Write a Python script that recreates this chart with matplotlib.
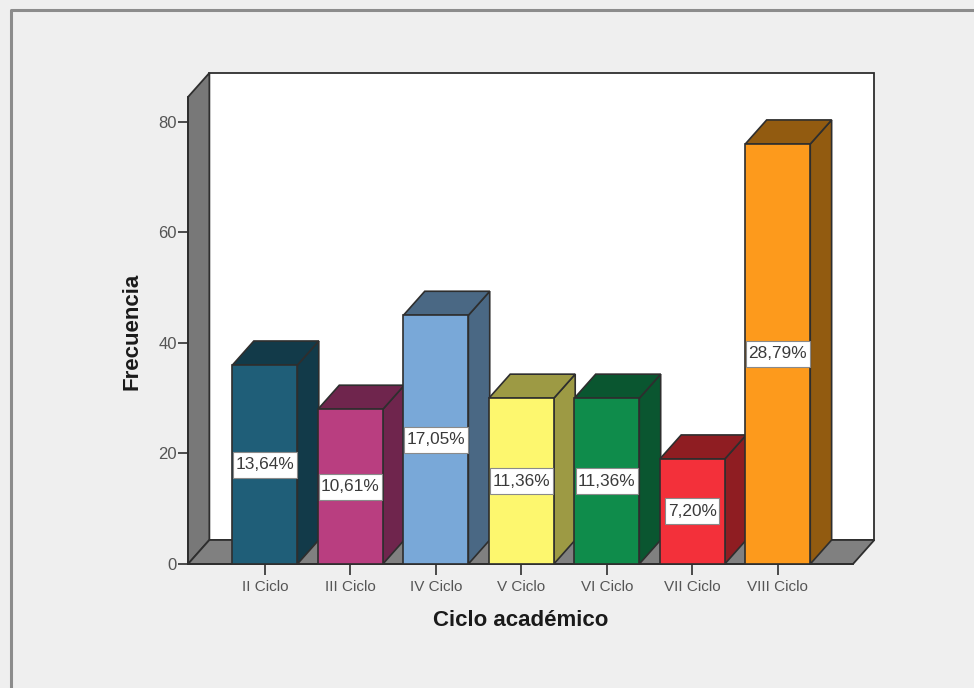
#!/usr/bin/env python3
"""Frecuencia por ciclo academico: 3D-looking bars on a flat axes."""

import matplotlib
matplotlib.use('Agg')
import matplotlib.pyplot as plt
from matplotlib.lines import Line2D
from matplotlib.patches import Polygon, Rectangle

plt.rcParams['font.family'] = ['Liberation Sans', 'DejaVu Sans']

CATEGORIES = ['II Ciclo', 'III Ciclo', 'IV Ciclo', 'V Ciclo', 'VI Ciclo',
              'VII Ciclo', 'VIII Ciclo']
VALUES = [36, 28, 45, 30, 30, 19, 76]
PERCENTS = ['13,64%', '10,61%', '17,05%', '11,36%', '11,36%', '7,20%', '28,79%']
FRONT_COLORS = ['#1f5e78', '#b93e80', '#79a8d8', '#fdf76e', '#0f8c4b',
                '#f3303a', '#fd9a1c']
SIDE_COLORS = ['#123a49', '#6f254d', '#4a6884', '#9d9a44', '#0a5630',
               '#8f1d22', '#925b10']
Y_TICKS = [0, 20, 40, 60, 80]

BG = '#efefef'
EDGE = '#2e2e2e'
TEXT = '#3a3a3a'
W, H = 974, 688

# depth of the fake 3D, in data units
DX = 0.25
DY = 4.35
BAR_W = 0.76
XMIN, XMAX = -0.9, 6.88
YMAX = 84.5


def main():
    fig = plt.figure(figsize=(W / 100, H / 100), dpi=100, facecolor=BG)

    # outer frame, open on the right and at the bottom
    fig.add_artist(Line2D([11 / W, 11 / W, 1], [0, 1 - 10 / H, 1 - 10 / H],
                          color='#8c8c8c', lw=2.2))

    ax = fig.add_axes([188 / W, 1 - 564 / H, 665 / W, 467 / H])
    ax.patch.set_visible(False)
    ax.set_xlim(XMIN, XMAX)
    ax.set_ylim(0, YMAX)

    # walls
    ax.add_patch(Rectangle((XMIN + DX, DY), XMAX - XMIN, YMAX, fc='white',
                           ec=EDGE, lw=1.3, clip_on=False, zorder=1))
    ax.add_patch(Polygon([(XMIN, 0), (XMIN + DX, DY), (XMIN + DX, YMAX + DY),
                          (XMIN, YMAX)], fc='#787878', ec=EDGE, lw=1.3,
                         clip_on=False, zorder=2))
    ax.add_patch(Polygon([(XMIN, 0), (XMAX, 0), (XMAX + DX, DY), (XMIN + DX, DY)],
                         fc='#808080', ec=EDGE, lw=1.3, clip_on=False, zorder=2))

    renderer = fig.canvas.get_renderer()
    px_x = 665 / (XMAX - XMIN)
    px_y = 467 / YMAX

    for i, v in enumerate(VALUES):
        x0 = i - BAR_W / 2
        x1 = i + BAR_W / 2
        z = 3 + i
        ax.add_patch(Polygon([(x1, 0), (x1 + DX, DY), (x1 + DX, v + DY), (x1, v)],
                             fc=SIDE_COLORS[i], ec=EDGE, lw=1.2, clip_on=False,
                             zorder=z))
        ax.add_patch(Polygon([(x0, v), (x1, v), (x1 + DX, v + DY), (x0 + DX, v + DY)],
                             fc=SIDE_COLORS[i], ec=EDGE, lw=1.2, clip_on=False,
                             zorder=z))
        ax.bar(i, v, width=BAR_W, color=FRONT_COLORS[i], edgecolor=EDGE,
               linewidth=1.2, zorder=z + 0.1)
        t = ax.text(i, v / 2, PERCENTS[i], ha='center', va='center',
                    fontsize=12.4, color=TEXT, zorder=21)
        # label box is a fixed 26 px tall, text width plus a small margin
        bw = (t.get_window_extent(renderer).width + 5) / px_x
        bh = 26 / px_y
        ax.add_patch(Rectangle((i - bw / 2, v / 2 - bh / 2), bw, bh, fc='white',
                               ec='#8a8a8a', lw=0.8, zorder=20))

    ax.set_xticks(range(len(CATEGORIES)), CATEGORIES)
    ax.set_yticks(Y_TICKS)
    ax.tick_params(axis='x', length=8, width=1.2, color=EDGE, labelsize=11,
                   labelcolor='#555555', pad=3.5)
    ax.tick_params(axis='y', length=7, width=1.2, color=EDGE, labelsize=12,
                   labelcolor='#555555', pad=1)
    for s in ('top', 'right'):
        ax.spines[s].set_visible(False)
    for s in ('left', 'bottom'):
        ax.spines[s].set_color(EDGE)
        ax.spines[s].set_linewidth(1.3)
        ax.spines[s].set_zorder(2.5)

    fig.text(521 / W, 1 - 620 / H, 'Ciclo académico', ha='center', va='center',
             fontsize=16, fontweight='bold', color='#1a1a1a')
    fig.text(132 / W, 1 - 331 / H, 'Frecuencia', ha='center', va='center',
             rotation=90, fontsize=16, fontweight='bold', color='#1a1a1a')

    fig.savefig('out.png', dpi=100, facecolor=BG)
    plt.close(fig)


if __name__ == '__main__':
    main()
